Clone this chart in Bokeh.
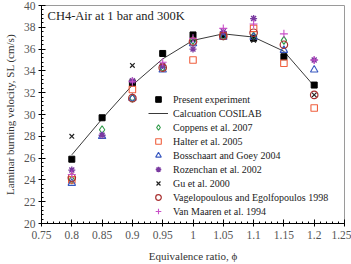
from bokeh.plotting import figure
from bokeh.models import (FixedTicker, CustomJSTickFormatter, Legend, LegendItem,
                          Label, Range1d)
from bokeh.embed import file_html
from bokeh.resources import INLINE

# ---- data ----
phi_calc = [0.80, 0.85, 0.90, 0.95, 1.00, 1.05, 1.10, 1.15, 1.20]
sl_calc = [26.3, 29.6, 32.7, 35.1, 36.8, 37.4, 37.1, 35.8, 32.6]

phi_present = [0.80, 0.85, 0.90, 0.95, 1.00, 1.05, 1.10, 1.15, 1.20]
sl_present = [25.9, 29.7, 32.9, 35.6, 37.3, 37.3, 37.0, 35.3, 32.7]

phi_coppens = [0.80, 0.85, 0.90, 0.95, 1.00, 1.05, 1.10, 1.15]
sl_coppens = [24.0, 28.6, 31.5, 34.3, 36.8, 37.2, 37.2, 36.8]

phi_halter = [0.80, 0.90, 1.00, 1.05, 1.10, 1.15, 1.20]
sl_halter = [24.0, 32.3, 35.0, 37.2, 37.9, 34.7, 30.6]

phi_boss = [0.80, 0.85, 0.90, 0.95, 1.00, 1.05, 1.10, 1.15, 1.20]
sl_boss = [23.7, 28.0, 31.5, 34.1, 36.5, 37.1, 37.1, 35.9, 34.1]

phi_rozen = [0.80, 0.85, 0.90, 0.95, 1.00, 1.05, 1.10, 1.20]
sl_rozen = [24.9, 28.1, 33.1, 34.5, 36.0, 37.6, 38.8, 35.0]

phi_gu = [0.80, 0.90, 1.00, 1.10, 1.20]
sl_gu = [28.0, 34.5, 36.9, 36.8, 31.8]

phi_vag = [0.80, 0.90, 0.95, 1.00, 1.05, 1.10, 1.15, 1.20]
sl_vag = [24.2, 31.5, 34.3, 36.7, 37.2, 37.5, 36.4, 31.8]

phi_vanm = [0.80, 0.90, 0.95, 1.00, 1.05, 1.10, 1.15, 1.20]
sl_vanm = [24.5, 33.0, 34.8, 37.0, 37.9, 38.3, 37.4, 35.0]

x_ticks = [0.75, 0.80, 0.85, 0.90, 0.95, 1.00, 1.05, 1.10, 1.15, 1.20, 1.25]
y_ticks = [20, 22, 24, 26, 28, 30, 32, 34, 36, 38, 40]

FONT = "Liberation Serif"

p = figure(width=351, height=264, output_backend="svg", toolbar_location=None,
           x_range=Range1d(0.75, 1.25), y_range=Range1d(20, 40),
           min_border_left=40, min_border_right=7, min_border_top=5,
           min_border_bottom=39)
p.background_fill_color = "white"
p.border_fill_color = "white"
p.outline_line_color = "#9a9a9a"
p.xgrid.visible = False
p.ygrid.visible = False

x_minor = [round(0.75 + 0.01 * i, 2) for i in range(51)]
y_minor = [round(20 + 0.4 * i, 1) for i in range(51)]
p.xaxis.ticker = FixedTicker(ticks=x_ticks, minor_ticks=x_minor)
p.yaxis.ticker = FixedTicker(ticks=y_ticks, minor_ticks=y_minor)
p.xaxis.formatter = CustomJSTickFormatter(code="return String(Math.round(tick*100)/100);")
p.yaxis.formatter = CustomJSTickFormatter(code="return String(Math.round(tick));")

for ax in (p.xaxis[0], p.yaxis[0]):
    ax.axis_line_color = "black"
    ax.major_tick_line_color = "black"
    ax.minor_tick_line_color = "black"
    ax.major_tick_in = 4
    ax.major_tick_out = 3
    ax.minor_tick_in = 2
    ax.minor_tick_out = 0
    ax.major_label_text_font = FONT
    ax.major_label_text_font_size = "11.5px"
    ax.major_label_text_color = "#555555"
    ax.axis_label_text_font = FONT
    ax.axis_label_text_font_size = "11px"
    ax.axis_label_text_font_style = "normal"
    ax.axis_label_text_color = "#333333"

p.xaxis.major_label_standoff = 4
p.xaxis.axis_label_standoff = 8
p.yaxis.major_label_standoff = 3
p.yaxis.axis_label_standoff = 5
p.xaxis.axis_label = "Equivalence ratio, \u03d5"
p.yaxis.axis_label = "Laminar burning velocity, SL (cm/s)"

# curve
r_calc = p.line(phi_calc, sl_calc, line_color="#3a3a3a", line_width=1)

r_present = p.scatter(phi_present, sl_present, marker="square", size=6,
                      fill_color="black", line_color="black")
r_coppens = p.scatter(phi_coppens, sl_coppens, marker="diamond", size=8,
                      fill_color=None, line_color="#2f9a48", line_width=1.1)
r_halter = p.scatter(phi_halter, sl_halter, marker="square", size=6.5,
                     fill_color=None, line_color="#f0603f", line_width=1.1)
r_boss = p.scatter(phi_boss, sl_boss, marker="triangle", size=7.5,
                   fill_color=None, line_color="#3858c0", line_width=1.1)
r_rozen = p.scatter(phi_rozen, sl_rozen, marker="asterisk", size=7,
                    line_color="#7a3aa0", line_width=1.4)
r_gu = p.scatter(phi_gu, sl_gu, marker="x", size=6.5,
                 line_color="#222222", line_width=1.2)
r_vag = p.scatter(phi_vag, sl_vag, marker="circle", size=7.5,
                  fill_color=None, line_color="#a83030", line_width=1.2)
r_vanm = p.scatter(phi_vanm, sl_vanm, marker="cross", size=8,
                   line_color="#c850c8", line_width=1.1)

items = [
    LegendItem(label="Present experiment", renderers=[r_present]),
    LegendItem(label="Calcuation COSILAB", renderers=[r_calc]),
    LegendItem(label="Coppens et al. 2007", renderers=[r_coppens]),
    LegendItem(label="Halter et al. 2005", renderers=[r_halter]),
    LegendItem(label="Bosschaart and Goey 2004", renderers=[r_boss]),
    LegendItem(label="Rozenchan et al. 2002", renderers=[r_rozen]),
    LegendItem(label="Gu et al. 2000", renderers=[r_gu]),
    LegendItem(label="Vagelopoulous and Egolfopoulos 1998", renderers=[r_vag]),
    LegendItem(label="Van Maaren et al. 1994", renderers=[r_vanm]),
]
legend = Legend(items=items, location=(107, 5))
legend.border_line_color = None
legend.background_fill_alpha = 0
legend.padding = 0
legend.margin = 0
legend.spacing = 0
legend.glyph_width = 20
legend.glyph_height = 14
legend.label_height = 14
legend.label_standoff = 5
legend.label_text_font = FONT
legend.label_text_font_size = "10px"
legend.label_text_color = "#222222"
p.add_layout(legend, "center")

title = Label(x=0.76, y=39.0, text="CH4-Air at 1 bar and 300K",
              text_font=FONT, text_font_size="12.5px", text_color="#222222",
              text_baseline="middle", text_align="left")
p.add_layout(title)

open("out.html", "w").write(file_html(p, INLINE))
